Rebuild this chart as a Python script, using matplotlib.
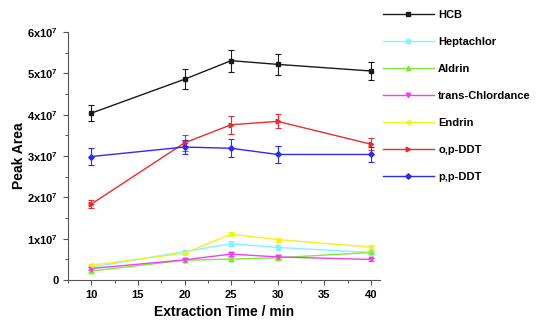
import numpy as np
import matplotlib
matplotlib.use("Agg")
import matplotlib.pyplot as plt
from matplotlib.lines import Line2D
from matplotlib.ticker import MultipleLocator, FuncFormatter

plt.rcParams['font.family'] = ['Liberation Sans', 'DejaVu Sans']
plt.rcParams['mathtext.fontset'] = 'custom'
plt.rcParams['mathtext.rm'] = 'Liberation Sans:bold'
plt.rcParams['mathtext.it'] = 'Liberation Sans:bold'
plt.rcParams['mathtext.bf'] = 'Liberation Sans:bold'

times = [10, 20, 25, 30, 40]

hcb = [4.04e7, 4.86e7, 5.31e7, 5.22e7, 5.06e7]
hcb_err = [0.20e7, 0.24e7, 0.27e7, 0.25e7, 0.21e7]
heptachlor = [0.31e7, 0.69e7, 0.88e7, 0.79e7, 0.67e7]
heptachlor_err = [0.04e7, 0.05e7, 0.06e7, 0.05e7, 0.04e7]
aldrin = [0.22e7, 0.48e7, 0.51e7, 0.54e7, 0.67e7]
aldrin_err = [0.03e7, 0.04e7, 0.04e7, 0.04e7, 0.04e7]
chlordance = [0.28e7, 0.49e7, 0.63e7, 0.56e7, 0.50e7]
chlordance_err = [0.03e7, 0.04e7, 0.05e7, 0.04e7, 0.04e7]
endrin = [0.36e7, 0.65e7, 1.11e7, 0.98e7, 0.80e7]
endrin_err = [0.03e7, 0.04e7, 0.05e7, 0.05e7, 0.04e7]
op_ddt = [1.84e7, 3.32e7, 3.76e7, 3.84e7, 3.29e7]
op_ddt_err = [0.10e7, 0.20e7, 0.22e7, 0.17e7, 0.15e7]
pp_ddt = [2.99e7, 3.22e7, 3.19e7, 3.04e7, 3.04e7]
pp_ddt_err = [0.20e7, 0.16e7, 0.22e7, 0.20e7, 0.18e7]

series = [
    ("HCB", hcb, hcb_err, "#1a1a1a", "s"),
    ("Heptachlor", heptachlor, heptachlor_err, "#7ff5ff", "o"),
    ("Aldrin", aldrin, aldrin_err, "#7fe83a", "^"),
    ("trans-Chlordance", chlordance, chlordance_err, "#f040f0", "v"),
    ("Endrin", endrin, endrin_err, "#f5f020", "<"),
    ("o,p-DDT", op_ddt, op_ddt_err, "#ee2a2a", ">"),
    ("p,p-DDT", pp_ddt, pp_ddt_err, "#2a2aff", "D"),
]

fig = plt.figure(figsize=(5.4, 3.28), dpi=100)
ax = fig.add_axes([0.126, 0.146, 0.578, 0.756])

handles = []
for name, vals, err, color, marker in series:
    ms = 2.8 if marker == "D" else 3.3
    ax.errorbar(times, vals, yerr=err, color=color, marker=marker,
                markersize=ms, linewidth=1.0, elinewidth=0.8,
                capsize=2.5, capthick=0.8)
    # legend entry shows only the line and marker
    handles.append(Line2D([], [], color=color, marker=marker, markersize=ms,
                          linewidth=1.0, label=name))

ax.set_xlim(7.5, 41)
ax.set_ylim(0, 6e7)
ax.xaxis.set_major_locator(MultipleLocator(5))
ax.xaxis.set_minor_locator(MultipleLocator(2.5))
ax.yaxis.set_major_locator(MultipleLocator(1e7))
ax.yaxis.set_minor_locator(MultipleLocator(0.5e7))


def fmt_y(v, pos):
    n = int(round(v / 1e7))
    if n == 0:
        return "0"
    return r"%dx10$^{7}$" % n


ax.yaxis.set_major_formatter(FuncFormatter(fmt_y))
for lab in ax.get_xticklabels() + ax.get_yticklabels():
    lab.set_fontweight("bold")
ax.tick_params(axis="both", which="major", labelsize=8, length=3.5, width=0.8, color="#555555")
ax.tick_params(axis="both", which="minor", length=2, width=0.7, color="#555555")

ax.spines["top"].set_visible(False)
ax.spines["right"].set_visible(False)
ax.spines["left"].set_color("#555555")
ax.spines["bottom"].set_color("#555555")

ax.set_xlabel("Extraction Time / min", fontsize=10, fontweight="bold")
ax.set_ylabel("Peak Area", fontsize=10, fontweight="bold")
ax.yaxis.set_label_coords(-0.135, 0.5)

fig.legend(handles=handles, loc="upper left", bbox_to_anchor=(0.69, 1.0),
           frameon=False, handlelength=4.6, labelspacing=1.53,
           handletextpad=0.4, prop={"weight": "bold", "size": 8})

fig.savefig("out.png", dpi=100)
